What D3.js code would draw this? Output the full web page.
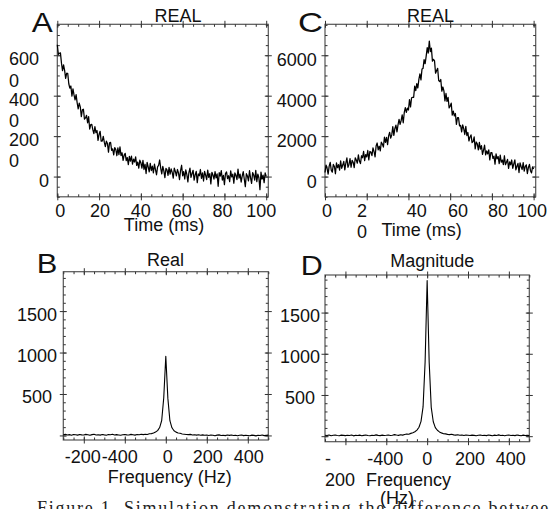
<!DOCTYPE html>
<html>
<head>
<meta charset="utf-8">
<script src="https://cdn.jsdelivr.net/npm/d3@7"></script>
<style>
  html, body { margin: 0; padding: 0; background: #fff; }
  svg { display: block; font-family: "Liberation Sans", Arial, Helvetica, sans-serif; }
</style>
</head>
<body>
<svg id="fig" width="549" height="509"></svg>
<script>
// sample grids
const timeMs = d3.range(0, 100.01, 0.5);      // 201 samples, panels A and C
const freqHz = d3.range(-500, 500.01, 10);    // 101 samples, panels B and D

// A: FID, real part
const fidReal = [
  6520, 6040, 6100, 6120, 5610, 5240, 5520, 5250, 4860, 5110,
  5100, 4590, 4370, 4480, 3980, 4340, 4040, 3790, 4050, 3650,
  3350, 3630, 3450, 2960, 3300, 3330, 2840, 2900, 3030, 2660,
  2960, 2350, 2570, 2580, 2320, 2120, 2470, 2170, 2280, 1790,
  2090, 2240, 1750, 1750, 1990, 1700, 1480, 1750, 1640, 1210,
  1670, 1690, 1300, 1370, 1070, 1430, 1340, 1030, 1420, 1080,
  1470, 1040, 1180, 800, 1060, 1150, 790, 940, 590, 1000,
  760, 1010, 610, 860, 720, 980, 550, 720, 420, 810,
  680, 420, 800, 350, 610, 150, 700, 480, 230, 650,
  300, 520, 180, 610, 340, 90, 480, 560, 820, 420,
  130, 510, 280, -50, 400, 330, 60, 460, 120, 380,
  210, -80, 420, 260, 30, 350, 180, -150, 300, 560,
  40, 250, -120, 330, 110, -260, 200, 420, -40, 150,
  310, -180, 90, 260, -300, 130, 40, 350, -90, 180,
  -220, 260, 70, -150, 320, -40, 150, -360, 210, 80,
  -130, 240, -60, 130, -480, 190, 20, 300, -170, 60,
  -400, 150, 230, -100, 40, -250, 280, -20, 120, -330,
  180, 60, -150, 370, -80, 120, -270, 20, 250, -120,
  -500, 140, 30, -210, 290, -60, -340, 200, 80, -180,
  310, -250, 120, -60, -650, 220, -130, 70, -300, 180,
  10
];

// C: echo, real part
const echoReal = [
  200, 570, 410, 120, 520, 700, 320, 220, 600, 500,
  140, 680, 440, 590, 320, 780, 410, 570, 750, 330,
  670, 920, 460, 600, 890, 460, 800, 710, 440, 930,
  820, 660, 1070, 770, 640, 1030, 930, 1250, 790, 1090,
  970, 1290, 820, 1240, 1210, 1040, 1420, 1240, 970, 1510,
  1660, 1320, 1500, 1270, 1700, 1610, 1460, 1950, 1690, 1940,
  1580, 2010, 2190, 1900, 2060, 2470, 2040, 2380, 2540, 2210,
  2560, 2830, 2580, 2770, 3050, 2660, 3170, 3410, 3170, 3390,
  3290, 3810, 3450, 3900, 3920, 3920, 4470, 4250, 4600, 4380,
  4810, 5080, 4780, 5320, 5350, 5780, 5580, 5960, 6380, 6110,
  6700,
  6180, 6350, 5710, 5800, 5720, 5110, 5240, 5350, 4750, 4700,
  4800, 4220, 4430, 4240, 3740, 4110, 3720, 3920, 3400, 3480,
  3630, 3040, 3240, 3000, 3120, 2580, 2910, 2910, 2510, 2530,
  2210, 2560, 2370, 2080, 2480, 2030, 2180, 1760, 1960, 2060,
  1680, 1730, 1960, 1370, 1710, 1620, 1320, 1690, 1360, 1530,
  1100, 1310, 1550, 1070, 1270, 1120, 1320, 820, 1180, 1190,
  900, 1010, 610, 1120, 880, 990, 640, 1060, 710, 820,
  590, 1030, 590, 710, 850, 400, 730, 580, 820, 410,
  630, 830, 330, 510, 650, 200, 680, 500, 350, 690,
  270, 510, 580, 150, 450, 600, 290, 180, 480, 370
];

// B: spectrum of A, real part
const specReal = [
  8, 14, 6, 10, 3, 12, 9, 4, 11, 7,
  5, 13, 8, 2, 10, 15, 6, 9, 4, 12,
  7, 3, 11, 8, 14, 5, 10, 6, 2, 9,
  12, 7, 5, 13, 9, 4, 11, 8, 15, 10,
  14, 12, 20, 22, 30, 42, 58, 95, 180, 455,
  955,
  450, 178, 92, 56, 40, 30, 26, 18, 15, 12,
  10, 13, 6, 9, 4, 8, 2, 7, 3, 5,
  0, 6, 3, -3, 4, 7, 0, 3, -2, 5,
  1, 6, -1, 3, -4, 2, 5, -2, 3, 0,
  -3, 4, 1, -5, 2, -1, 5, -2, 1, 4
];

// D: spectrum of C, magnitude
const specMag = [
  12, 8, 15, 6, 11, 14, 9, 5, 13, 10,
  7, 12, 9, 15, 4, 11, 8, 13, 6, 10,
  14, 9, 5, 12, 8, 16, 10, 7, 13, 9,
  11, 15, 8, 12, 19, 14, 10, 17, 13, 20,
  26, 24, 34, 42, 54, 74, 108, 180, 355, 900,
  1890,
  895, 350, 175, 104, 72, 52, 40, 30, 28, 22,
  19, 24, 16, 13, 18, 11, 15, 9, 14, 12,
  8, 13, 10, 6, 12, 15, 9, 11, 7, 14,
  10, 6, 13, 9, 16, 8, 12, 5, 11, 14,
  9, 12, 7, 15, 10, 6, 13, 8, 11, 9
];

// tick values and labels ("\n" = label wrapped onto two lines, as printed)
const timeTicks = [0, 20, 40, 60, 80, 100];
const timeLabelsA = ["0", "20", "40", "60", "80", "100"];
const timeLabelsC = ["0", "2\n0", "40", "60", "80", "100"];
const ampTicks = [6000, 4000, 2000, 0];
const ampLabelsA = ["600\n0", "400\n0", "200\n0", "0"];
const ampLabelsC = ["6000", "4000", "2000", "0"];
const freqTicks = [-400, -200, 0, 200, 400];
const freqLabelsB = ["-200", "-400", "0", "200", "400"];
const freqLabelsD = ["-\n200", "-400", "0", "200", "400"];
const specTicks = [500, 1000, 1500];
const specLabels = ["500", "1000", "1500"];

const svg = d3.select("#fig");
const FONT = 18;
const LINE_H = 21.3;

// caption first so the panel texts sit on top of it
svg.append("text")
  .attr("x", 37).attr("y", 514)
  .attr("font-family", "'Liberation Serif', 'Times New Roman', serif")
  .attr("font-size", 18)
  .attr("fill", "#222")
  .attr("textLength", 522)
  .attr("lengthAdjust", "spacing")
  .text("Figure 1.  Simulation demonstrating the difference between");

function text(x, y, str, anchor, size) {
  const t = svg.append("text")
    .attr("x", x).attr("y", y)
    .attr("text-anchor", anchor)
    .attr("font-size", size || FONT)
    .attr("fill", "#111");
  str.split("\n").forEach((s, i) => {
    t.append("tspan").attr("x", x).attr("y", y + i * LINE_H).text(s);
  });
  return t;
}

function tickSet(axisFn, scale, values, size, transform) {
  svg.append("g")
    .attr("transform", transform)
    .call(axisFn(scale).tickValues(values).tickSize(size).tickFormat(""))
    .call((a) => a.select(".domain").remove())
    .selectAll("line")
    .attr("stroke", "#333")
    .attr("stroke-width", 1);
}

function panel(p) {
  const x = d3.scaleLinear().domain(p.xDomain).range([p.x0, p.x1]);
  const y = d3.scaleLinear().domain(p.yDomain).range([p.y1, p.y0]);

  const xMinor = d3.range(p.xDomain[0] - (p.xDomain[0] % p.xMinor), p.xDomain[1] + 0.01, p.xMinor);
  const xMajor = xMinor.filter((v) => v % p.xMajor === 0);
  const yMinor = d3.range(Math.ceil(p.yDomain[0] / p.yMinor) * p.yMinor, p.yDomain[1], p.yMinor);
  const yMajor = yMinor.filter((v) => v % p.yMajor === 0);

  // frame
  svg.append("rect")
    .attr("x", p.x0).attr("y", p.y0)
    .attr("width", p.x1 - p.x0).attr("height", p.y1 - p.y0)
    .attr("fill", "none").attr("stroke", "#555").attr("stroke-width", 1.2);

  // ticks on all four sides: minor inward, major crossing the frame
  const sides = [
    [d3.axisBottom, x, `translate(0,${p.y1})`, xMinor, xMajor],
    [d3.axisTop, x, `translate(0,${p.y0})`, xMinor, xMajor],
    [d3.axisLeft, y, `translate(${p.x0},0)`, yMinor, yMajor],
    [d3.axisRight, y, `translate(${p.x1},0)`, yMinor, yMajor],
  ];
  sides.forEach(([fn, sc, tr, minor, major]) => {
    tickSet(fn, sc, minor, -2.5, tr);
    tickSet(fn, sc, major, -3.5, tr);
    tickSet(fn, sc, major, 3.5, tr);
  });

  // trace
  const line = d3.line().x((d, i) => x(p.xs[i])).y((d) => y(d));
  svg.append("path")
    .datum(p.ys)
    .attr("d", line)
    .attr("fill", "none")
    .attr("stroke", "#000")
    .attr("stroke-width", p.lw)
    .attr("stroke-linejoin", "round");

  // tick labels
  p.xTicks.forEach((v, i) => {
    const lab = p.xLabels[i];
    const wrapped = lab.includes("\n");
    text(x(v) + p.xLabelDx[i], p.xLabelY, lab, wrapped ? "start" : "middle");
  });
  p.yTicks.forEach((v, i) => {
    const lab = p.yLabels[i];
    const wrapped = lab.includes("\n");
    const ax = wrapped ? p.yWrapX : p.yLabelX;
    const anchor = wrapped ? "start" : p.yAnchor;
    text(ax, y(v) + p.yLabelDy, lab, anchor);
  });

  // titles
  text(p.titleX, p.titleY, p.title, "middle");
  p.axisTitle.forEach(([s, tx, ty]) => text(tx, ty, s, "middle"));
  text(p.letterX, p.letterY, p.letter, "end", 28)
    .attr("textLength", p.letterW)
    .attr("lengthAdjust", "spacingAndGlyphs");
}

panel({
  letter: "A", letterX: 52.7, letterY: 32.3, letterW: 21,
  title: "REAL", titleX: 178, titleY: 21.7,
  x0: 57.3, x1: 268.3, y0: 24.3, y1: 196.8,
  xDomain: [0, 101], yDomain: [-1000, 7530],
  xMinor: 5, xMajor: 20, yMinor: 500, yMajor: 2000,
  xs: timeMs, ys: fidReal, lw: 1.25,
  xTicks: timeTicks, xLabels: timeLabelsA, xLabelDx: [3, 1, 0, -1, -2, -5], xLabelY: 217,
  yTicks: ampTicks, yLabels: ampLabelsA, yLabelX: 49, yWrapX: 9, yAnchor: "end", yLabelDy: 10,
  axisTitle: [["Time (ms)", 164, 231]],
});

panel({
  letter: "C", letterX: 323, letterY: 32.3, letterW: 25,
  title: "REAL", titleX: 430.5, titleY: 21.7,
  x0: 325, x1: 535.7, y0: 24.3, y1: 196.8,
  xDomain: [0, 101], yDomain: [-1000, 7530],
  xMinor: 5, xMajor: 20, yMinor: 500, yMajor: 2000,
  xs: timeMs, ys: echoReal, lw: 1.25,
  xTicks: timeTicks, xLabels: timeLabelsC, xLabelDx: [2, -9.7, 8.3, 7.8, 6, -1.6], xLabelY: 217,
  yTicks: ampTicks, yLabels: ampLabelsC, yLabelX: 316.7, yWrapX: 275, yAnchor: "end", yLabelDy: 11,
  axisTitle: [["Time (ms)", 421.7, 235.5]],
});

panel({
  letter: "B", letterX: 57.3, letterY: 273.3, letterW: 20.6,
  title: "Real", titleX: 165.5, titleY: 266,
  x0: 63.3, x1: 268.3, y0: 271.7, y1: 440,
  xDomain: [-500, 500], yDomain: [-55, 1975],
  xMinor: 50, xMajor: 200, yMinor: 100, yMajor: 500,
  xs: freqHz, ys: specReal, lw: 1.1,
  xTicks: freqTicks, xLabels: freqLabelsB, xLabelDx: [-1, -5, 2, 1, 1], xLabelY: 463,
  yTicks: specTicks, yLabels: specLabels, yLabelX: 37, yWrapX: 17, yAnchor: "middle", yLabelDy: 9.5,
  axisTitle: [["Frequency (Hz)", 169.7, 483]],
});

panel({
  letter: "D", letterX: 322.7, letterY: 275, letterW: 22,
  title: "Magnitude", titleX: 432.3, titleY: 267,
  x0: 325, x1: 529.3, y0: 275, y1: 441.7,
  xDomain: [-500, 500], yDomain: [-67, 1956],
  xMinor: 50, xMajor: 200, yMinor: 100, yMajor: 500,
  xs: freqHz, ys: specMag, lw: 1.1,
  xTicks: freqTicks, xLabels: freqLabelsD, xLabelDx: [-20.5, -1, 0, 2, 2], xLabelY: 465,
  yTicks: specTicks, yLabels: specLabels, yLabelX: 300, yWrapX: 280, yAnchor: "middle", yLabelDy: 9,
  axisTitle: [["Frequency", 408.5, 486], ["(Hz)", 397, 504]],
});
</script>
</body>
</html>
